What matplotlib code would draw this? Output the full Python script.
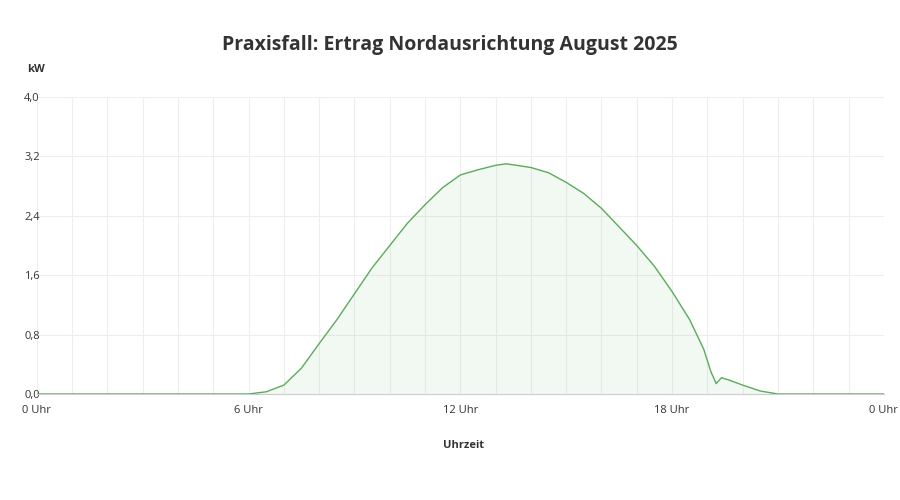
import matplotlib
matplotlib.use("Agg")
import matplotlib.pyplot as plt
import numpy as np

hours = [0, 6.0, 6.5, 7.0, 7.5, 8.0, 8.5, 9.0, 9.5, 10.0, 10.5, 11.0, 11.5, 12.0, 12.5, 13.0, 13.3, 13.6, 14.0,
         14.5, 15.0, 15.5, 16.0, 16.5, 17.0, 17.5, 18.0, 18.5, 18.9, 19.1, 19.25, 19.4, 19.6, 20.0, 20.5, 21.0, 24.0]
power = [0, 0.0, 0.03, 0.12, 0.35, 0.68, 1.0, 1.35, 1.7, 2.0, 2.3, 2.55, 2.78, 2.95, 3.02, 3.08, 3.1, 3.08, 3.05,
         2.98, 2.85, 2.7, 2.5, 2.25, 2.0, 1.72, 1.38, 1.0, 0.6, 0.3, 0.14, 0.22, 0.19, 0.12, 0.04, 0.0, 0.0]
xticks = [0, 6, 12, 18, 24]
xlabels = ["0 Uhr", "6 Uhr", "12 Uhr", "18 Uhr", "0 Uhr"]
yticks = [0.0, 0.8, 1.6, 2.4, 3.2, 4.0]

plt.rcParams['font.family'] = ['Open Sans', 'DejaVu Sans']
fig = plt.figure(figsize=(9, 5), dpi=100)
ax = fig.add_axes([0.041, 0.212, 0.941, 0.594])
col = "#5aab5a"
ax.plot(hours, power, color=col, lw=1)
ax.fill_between(hours, power, color=col, alpha=0.08, lw=0)
ax.set_xlim(0, 24)
ax.set_ylim(0, 4.0)
ax.set_xticks(xticks)
ax.set_xticklabels(xlabels)
ax.set_xticks(np.arange(0, 25, 1), minor=True)
ax.set_yticks(yticks)
ax.set_yticklabels([f"{v:.1f}".replace(".", ",") for v in yticks])
ax.grid(True, which='both', color="#eeeeee", lw=0.8)
ax.set_axisbelow(True)
for s in ax.spines.values():
    s.set_visible(False)
ax.spines['bottom'].set_visible(True)
ax.spines['bottom'].set_color("#cccccc")
ax.tick_params(which='both', length=0, labelsize=8, colors="#333333")
ax.tick_params(axis='y', pad=-2)
for lab in ax.get_yticklabels():
    lab.set_horizontalalignment('right')
ax.tick_params(axis='x', pad=8)
fig.text(0.5, 0.91, "Praxisfall: Ertrag Nordausrichtung August 2025", ha='center', va='center',
         fontsize=14, fontweight='bold', color="#333333")
fig.text(0.03, 0.855, "kW", fontsize=8, fontweight='bold', color="#333333")
fig.text(0.515, 0.105, "Uhrzeit", ha='center', fontsize=8, fontweight='bold', color="#333333")
fig.savefig("out.png")
